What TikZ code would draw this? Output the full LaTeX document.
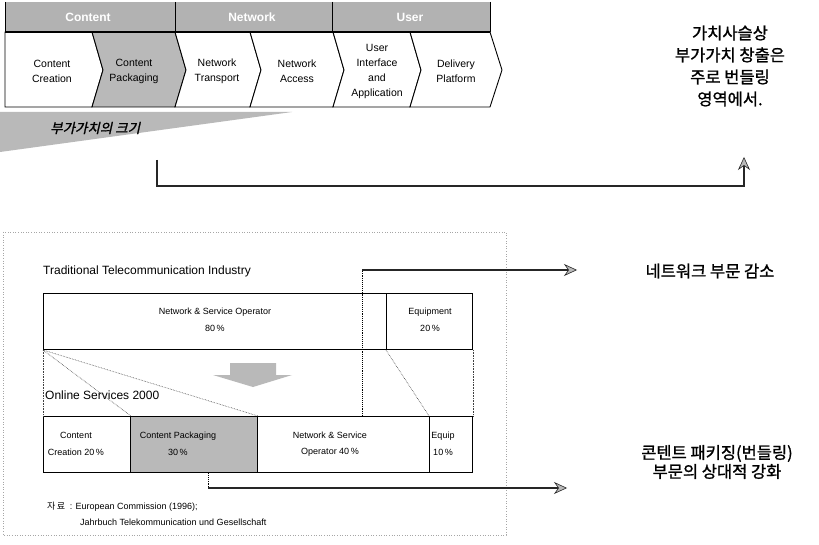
\documentclass[tikz,border=0pt]{standalone}
\usepackage{fontspec}
\setmainfont{Liberation Sans}
\newfontfamily\krfont{Noto Sans CJK KR}
\newfontfamily\krnote[FakeBold=1.2]{Noto Sans CJK KR}
\newfontfamily\krslant[FakeSlant=0.22,FakeBold=1.3]{Noto Sans CJK KR}
\usetikzlibrary{arrows.meta}
\begin{document}
\begin{tikzpicture}[x=1pt,y=-1pt,
  chevron/.style={draw=black,line width=0.9pt,fill=white,line join=miter},
  chevtext/.style={font=\fontsize{10.5}{15}\selectfont,align=center,inner sep=0pt},
  hdrtext/.style={font=\bfseries\fontsize{12}{14}\selectfont,text=white,inner sep=0pt},
  krtext/.style={font=\krnote\fontsize{16.5}{22}\selectfont,align=center,inner sep=0pt},
  titletext/.style={font=\fontsize{12}{14}\selectfont,anchor=west,inner sep=0pt},
  sharebox/.style={draw=black,line width=1pt,anchor=north west,inner sep=0pt},
  sharetext/.style={font=\fontsize{9}{16.5}\selectfont,align=center,inner sep=0pt},
  srctext/.style={font=\fontsize{9}{11}\selectfont,anchor=west,inner sep=0pt},
  guide/.style={densely dotted,black!75,line width=0.6pt},
  frame/.style={dotted,gray!70,line width=0.6pt},
  link/.style={black!85,line width=1.4pt,
    -{Stealth[length=13pt,width=12pt,fill=gray!55,line width=0.6pt]}},
  linkstem/.style={densely dotted,black,line width=0.9pt},
  shade/.style={fill=gray!55},
]
\useasboundingbox (0,0) rectangle (819,545);
\fill[white] (0,0) rectangle (819,545);

% ---------------- value chain header ----------------
\fill[gray!60] (5,2) rectangle (490,32);
\draw[line width=1pt] (5,2) -- (5,32) (175,2) -- (175,32) (332,2) -- (332,32) (490,2) -- (490,32);
\node[hdrtext] (hcontent) at (88,17) {Content};
\node[hdrtext] (hnetwork) at (252,17) {Network};
\node[hdrtext] (huser)    at (410,17) {User};

% ---------------- value chain chevrons ----------------
\draw[chevron] (5,32) -- (92,32) -- (103,70) -- (92,107) -- (5,107) -- cycle;
\draw[chevron,fill=gray!55] (92,32) -- (175,32) -- (186,70) -- (175,107) -- (92,107) -- (103,70) -- cycle;
\draw[chevron] (175,32) -- (250,32) -- (261,70) -- (250,107) -- (175,107) -- (186,70) -- cycle;
\draw[chevron] (250,32) -- (333,32) -- (344,70) -- (333,107) -- (250,107) -- (261,70) -- cycle;
\draw[chevron] (333,32) -- (410,32) -- (421,70) -- (410,107) -- (333,107) -- (344,70) -- cycle;
\draw[chevron] (410,32) -- (490,32) -- (502,70) -- (490,107) -- (410,107) -- (421,70) -- cycle;
\draw[line width=2pt] (5,32) -- (490,32);

\node[chevtext] (ccreation)  at (52,71)  {Content\\Creation};
\node[chevtext] (cpackaging) at (134,71) {Content\\Packaging};
\node[chevtext] (ntransport) at (217,71) {Network\\Transport};
\node[chevtext] (naccess)    at (297,71) {Network\\Access};
\node[chevtext] (uinterface) at (377,71) {User\\Interface\\and\\Application};
\node[chevtext] (dplatform)  at (456,71) {Delivery\\Platform};

% ---------------- added-value wedge ----------------
\fill[shade] (0,112) -- (292,112) -- (0,152) -- cycle;
\node[font=\krslant\fontsize{13.5}{15}\selectfont,inner sep=0pt,anchor=west] (wedgelabel) at (50,128) {부가가치의 크기};

% ---------------- note on value creation ----------------
\node[krtext] (valuenote) at (730,66) {가치사슬상\\부가가치 창출은\\주로 번들링\\영역에서.};
\coordinate (vstart) at (157,160);
\coordinate (vbend)  at (744,186);
\coordinate (vtip)   at (744,157);
\draw[link] (vstart) |- (vbend) -- (vtip);

% ---------------- industry comparison ----------------
\draw[frame] (3,232) rectangle (506,535);

\node[titletext] (tradtitle) at (43,271) {Traditional Telecommunication Industry};
\node[sharebox,minimum width=343pt,minimum height=56pt] (oldnet) at (43,293) {};
\node[sharebox,minimum width=86pt,minimum height=56pt] (oldeq) at (386,293) {};
\node[sharetext] (oldnettext) at (215,320) {Network \& Service Operator\\80\,\%};
\node[sharetext] (oldeqtext)  at (430,320) {Equipment\\20\,\%};

% shift arrow
\fill[shade] (230,363) -- (276,363) -- (276,375) -- (292,375) -- (253,387)
  -- (213,375) -- (230,375) -- cycle;

\node[titletext] (onlinetitle) at (45,395) {Online Services 2000};
\node[sharebox,minimum width=87pt,minimum height=56pt] (newcc) at (43,416) {};
\node[sharebox,minimum width=127pt,minimum height=56pt,fill=gray!55] (newpkg) at (130,416) {};
\node[sharebox,minimum width=172pt,minimum height=56pt] (newnet) at (257,416) {};
\node[sharebox,minimum width=43pt,minimum height=56pt] (neweq) at (429,416) {};
\node[sharetext] (newcctext)  at (76,444)  {Content\\Creation 20\,\%};
\node[sharetext] (newpkgtext) at (178,444) {Content Packaging\\30\,\%};
\node[sharetext] (newnettext) at (330,444) {Network \& Service\\Operator 40\,\%};
\node[sharetext] (neweqtext)  at (443,444) {Equip\\10\,\%};

% how the shares move
\draw[guide] (oldnet.south west) -- (newcc.north west);
\draw[guide] (oldnet.south west) -- (newcc.north east);
\draw[guide] (oldnet.south west) -- (newpkg.north east);
\draw[guide] (oldeq.south west) -- (neweq.north west);
\draw[guide] (oldeq.south east) -- (neweq.north east);

% network share note
\node[krtext] (netnote) at (710,271) {네트워크 부문 감소};
\coordinate (netbend) at (362,270);
\coordinate (nettip)  at (577,270);
\draw[linkstem] (newnet.north -| netbend) -- (netbend);
\draw[link] (netbend) -- (nettip);

% packaging share note
\node[krtext,font=\krnote\fontsize{16.5}{19}\selectfont] (pkgnote) at (717,462) {콘텐트 패키징(번들링)\\부문의 상대적 강화};
\coordinate (pkgbend) at (208,488);
\coordinate (pkgtip)  at (567,488);
\draw[linkstem] (newpkg.south -| pkgbend) -- (pkgbend);
\draw[link] (pkgbend) -- (pkgtip);

% source
\node[srctext] (src1) at (47,507) {{\krfont 자\,료}\enspace: European Commission (1996);};
\node[srctext] (src2) at (80,522) {Jahrbuch Telekommunication und Gesellschaft};
\end{tikzpicture}
\end{document}
